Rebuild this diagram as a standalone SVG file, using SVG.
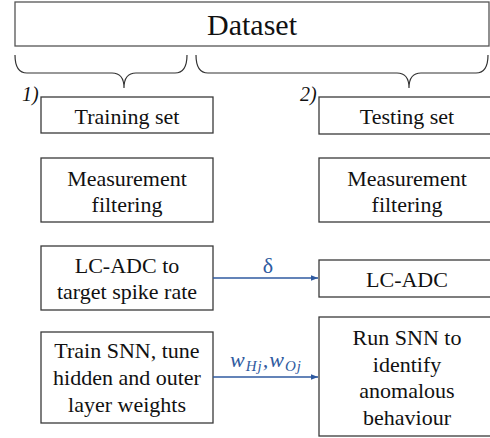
<svg xmlns="http://www.w3.org/2000/svg" width="490" height="438" viewBox="0 0 490 438">
<style>
  text { font-family: 'Liberation Serif', 'Times New Roman', serif !important; }
</style>
<defs>
  <marker id="arr" viewBox="0 0 10 10" refX="10" refY="5" markerWidth="7" markerHeight="7" orient="auto" markerUnits="userSpaceOnUse">
    <path d="M0,1 L10,5 L0,9 z" fill="#2F5AA0"/>
  </marker>
</defs>
<rect width="490" height="438" fill="#ffffff"/>

<g id="dataset">
  <rect x="15" y="2" width="474" height="44" fill="#fff" stroke="#555" stroke-width="1.3"/>
  <text x="252" y="35" text-anchor="middle" fill="#111" style="font-family:'Liberation Serif' !important;font-size:30px">Dataset</text>
</g>

<g id="braces" fill="none" stroke="#333" stroke-width="1.2">
  <path d="M15,55 Q15,73 27,73 L112,73 Q124,73 124,88 Q124,73 136,73 L175,73 Q187,73 187,55"/>
  <path d="M196,55 Q196,73 208,73 L397,73 Q409,73 409,88 Q409,73 421,73 L476,73 Q488,73 488,55"/>
</g>

<g id="label1"><text x="22" y="101" fill="#111" style="font-family:'Liberation Serif' !important;font-size:20px;font-style:italic">1)</text></g>
<g id="label2"><text x="300" y="101" fill="#111" style="font-family:'Liberation Serif' !important;font-size:20px;font-style:italic">2)</text></g>

<g id="training-set">
  <rect x="41" y="97" width="172" height="36" fill="#fff" stroke="#3a3a3a" stroke-width="1.3"/>
  <text x="127" y="124" text-anchor="middle" fill="#111" style="font-family:'Liberation Serif' !important;font-size:22px">Training set</text>
</g>
<g id="testing-set">
  <rect x="319" y="97" width="180" height="37" fill="#fff" stroke="#3a3a3a" stroke-width="1.3"/>
  <text x="407" y="124" text-anchor="middle" fill="#111" style="font-family:'Liberation Serif' !important;font-size:22px">Testing set</text>
</g>
<g id="filter-train">
  <rect x="41" y="158" width="172" height="64" fill="#fff" stroke="#3a3a3a" stroke-width="1.3"/>
  <text x="127" y="186" text-anchor="middle" fill="#111" style="font-family:'Liberation Serif' !important;font-size:22px">Measurement</text>
  <text x="127" y="212" text-anchor="middle" fill="#111" style="font-family:'Liberation Serif' !important;font-size:22px">filtering</text>
</g>
<g id="filter-test">
  <rect x="319" y="158" width="180" height="64" fill="#fff" stroke="#3a3a3a" stroke-width="1.3"/>
  <text x="407" y="186" text-anchor="middle" fill="#111" style="font-family:'Liberation Serif' !important;font-size:22px">Measurement</text>
  <text x="407" y="212" text-anchor="middle" fill="#111" style="font-family:'Liberation Serif' !important;font-size:22px">filtering</text>
</g>
<g id="lcadc-train">
  <rect x="41" y="246" width="172" height="64" fill="#fff" stroke="#3a3a3a" stroke-width="1.3"/>
  <text x="127" y="273" text-anchor="middle" fill="#111" style="font-family:'Liberation Serif' !important;font-size:22px">LC-ADC to</text>
  <text x="127" y="299" text-anchor="middle" fill="#111" style="font-family:'Liberation Serif' !important;font-size:22px">target spike rate</text>
</g>
<g id="lcadc-test">
  <rect x="319" y="260" width="180" height="37" fill="#fff" stroke="#3a3a3a" stroke-width="1.3"/>
  <text x="407" y="287" text-anchor="middle" fill="#111" style="font-family:'Liberation Serif' !important;font-size:22px">LC-ADC</text>
</g>
<g id="train-snn">
  <rect x="41" y="332" width="172" height="91" fill="#fff" stroke="#3a3a3a" stroke-width="1.3"/>
  <text x="127" y="358" text-anchor="middle" fill="#111" style="font-family:'Liberation Serif' !important;font-size:22px">Train SNN, tune</text>
  <text x="127" y="385" text-anchor="middle" fill="#111" style="font-family:'Liberation Serif' !important;font-size:22px">hidden and outer</text>
  <text x="127" y="412" text-anchor="middle" fill="#111" style="font-family:'Liberation Serif' !important;font-size:22px">layer weights</text>
</g>
<g id="run-snn">
  <rect x="319" y="317" width="180" height="119" fill="#fff" stroke="#3a3a3a" stroke-width="1.3"/>
  <text x="407" y="345" text-anchor="middle" fill="#111" style="font-family:'Liberation Serif' !important;font-size:22px">Run SNN to</text>
  <text x="407" y="372" text-anchor="middle" fill="#111" style="font-family:'Liberation Serif' !important;font-size:22px">identify</text>
  <text x="407" y="398" text-anchor="middle" fill="#111" style="font-family:'Liberation Serif' !important;font-size:22px">anomalous</text>
  <text x="407" y="425" text-anchor="middle" fill="#111" style="font-family:'Liberation Serif' !important;font-size:22px">behaviour</text>
</g>

<g id="connectors">
  <line x1="213" y1="278" x2="318" y2="278" stroke="#2F5AA0" stroke-width="1.4" marker-end="url(#arr)"/>
  <text x="268" y="273" text-anchor="middle" fill="#2F5AA0" style="font-family:'Liberation Serif' !important;font-size:22px">δ</text>
  <line x1="213" y1="377" x2="318" y2="377" stroke="#2F5AA0" stroke-width="1.4" marker-end="url(#arr)"/>
  <text x="266" y="367" text-anchor="middle" fill="#2F5AA0" style="font-family:'Liberation Serif' !important;font-size:22px;font-style:italic;letter-spacing:1px">w<tspan dy="4" style="font-size:15px">Hj</tspan><tspan dy="-4">,w</tspan><tspan dy="4" style="font-size:15px">Oj</tspan></text>
</g>
</svg>
